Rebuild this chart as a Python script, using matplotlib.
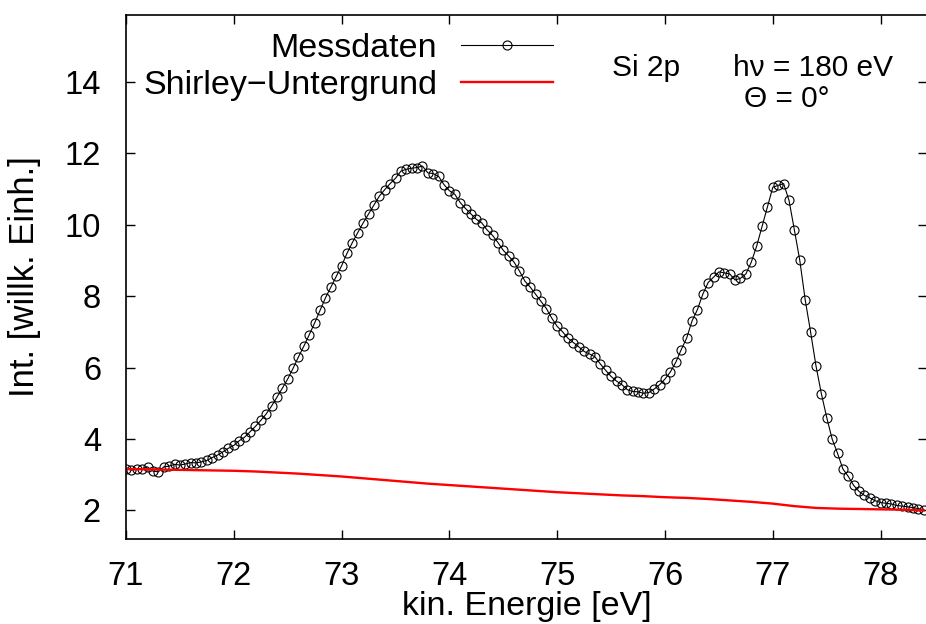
import numpy as np
import matplotlib
matplotlib.use('Agg')
import matplotlib.pyplot as plt

plt.rcParams['font.family'] = ['Liberation Sans', 'DejaVu Sans']

# Messdaten, Schrittweite 0.05 eV ab 71.00 eV
e_start = 71.0
e_step = 0.05
messdaten = [
    3.16, 3.13, 3.15, 3.17, 3.22, 3.10, 3.08, 3.22, 3.24, 3.29,
    3.27, 3.30, 3.34, 3.33, 3.36, 3.40, 3.48, 3.55, 3.64, 3.74,
    3.82, 3.95, 4.05, 4.20, 4.35, 4.52, 4.70, 4.92, 5.17, 5.42,
    5.68, 5.98, 6.30, 6.60, 6.92, 7.25, 7.60, 7.95, 8.25, 8.55,
    8.85, 9.20, 9.50, 9.78, 10.05, 10.30, 10.55, 10.80, 10.98, 11.15,
    11.30, 11.50, 11.55, 11.58, 11.60, 11.64, 11.45, 11.43, 11.35, 11.12,
    10.95, 10.85, 10.62, 10.45, 10.30, 10.15, 10.05, 9.85, 9.70, 9.50,
    9.28, 9.12, 8.95, 8.70, 8.42, 8.25, 8.05, 7.85, 7.65, 7.38,
    7.15, 7.00, 6.82, 6.70, 6.58, 6.45, 6.38, 6.30, 6.10, 5.92,
    5.75, 5.62, 5.52, 5.38, 5.33, 5.32, 5.28, 5.30, 5.40, 5.52,
    5.68, 5.88, 6.15, 6.50, 6.82, 7.30, 7.62, 8.05, 8.38, 8.53,
    8.68, 8.65, 8.62, 8.45, 8.50, 8.62, 8.95, 9.40, 9.95, 10.50,
    11.05, 11.10, 11.15, 10.68, 9.85, 9.00, 7.90, 7.00, 6.05, 5.27,
    4.60, 4.00, 3.60, 3.16, 2.95, 2.70, 2.53, 2.42, 2.35, 2.27,
    2.22, 2.20, 2.18, 2.14, 2.12, 2.10, 2.08, 2.05, 2.02,
]
energie = np.round(e_start + e_step * np.arange(len(messdaten)), 2)

# Shirley-Untergrund
shirley_e = [71.0, 71.2, 71.4, 71.6, 71.8, 72.0, 72.2, 72.4, 72.6, 72.8,
             73.0, 73.2, 73.4, 73.6, 73.8, 74.0, 74.2, 74.4, 74.6, 74.8,
             75.0, 75.2, 75.4, 75.6, 75.8, 76.0, 76.2, 76.4, 76.6, 76.8,
             77.0, 77.2, 77.4, 77.6, 77.8, 78.0, 78.2, 78.4]
shirley = [3.16, 3.15, 3.14, 3.13, 3.12, 3.11, 3.09, 3.06, 3.03, 2.99,
           2.95, 2.90, 2.85, 2.80, 2.75, 2.71, 2.67, 2.63, 2.59, 2.55,
           2.51, 2.48, 2.45, 2.42, 2.40, 2.37, 2.35, 2.32, 2.28, 2.24,
           2.19, 2.12, 2.07, 2.05, 2.04, 2.03, 2.02, 2.00]

x_ticks = [71, 72, 73, 74, 75, 76, 77, 78]
y_ticks = [2, 4, 6, 8, 10, 12, 14]

W, H = 926, 624
fig = plt.figure(figsize=(W / 100, H / 100), dpi=100)
ax = fig.add_axes([126 / W, 1 - 539 / H, 801 / W, 524 / H])

ax.plot(energie, messdaten, color='black', linewidth=0.8, marker='o',
        markersize=6.5, markerfacecolor='none', markeredgecolor='black',
        markeredgewidth=0.8, label='Messdaten')
ax.plot(shirley_e, shirley, color='red', linewidth=1.7,
        label='Shirley\u2212Untergrund')

ax.set_xlim(71, 78.43)
ax.set_ylim(1.2, 15.87)
ax.set_xticks(x_ticks)
ax.set_yticks(y_ticks)
ax.tick_params(direction='in', length=6.5, width=1, top=True, right=True,
               labelsize=23.5)
ax.tick_params(axis='x', pad=16)
ax.tick_params(axis='y', pad=18)
for sp in ax.spines.values():
    sp.set_linewidth(1.2)

ax.set_xlabel('kin. Energie [eV]', fontsize=24.5, labelpad=-1)
ax.set_ylabel('Int. [willk. Einh.]', fontsize=25, labelpad=17)

leg = ax.legend(loc='upper right', bbox_to_anchor=(553 / W, 1 - 33 / H),
                bbox_transform=fig.transFigure, frameon=False,
                markerfirst=False, fontsize=24.5, handlelength=2.7,
                handletextpad=0.7, labelspacing=0.18, borderpad=0,
                borderaxespad=0)

fig.text(612 / W, 1 - 75.5 / H, 'Si 2p', fontsize=21.5, va='baseline')
fig.text(733 / W, 1 - 75.5 / H, 'h\u03bd = 180 eV', fontsize=21.5, va='baseline')
fig.text(744 / W, 1 - 107 / H, '\u0398 = 0\u00b0', fontsize=21.5, va='baseline')

fig.savefig('out.png', dpi=100)
